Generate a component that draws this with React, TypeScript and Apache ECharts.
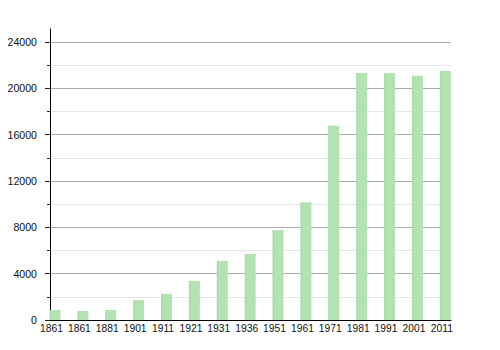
import React, { useEffect, useRef } from "react";
import * as echarts from "echarts";

const years = ["1861", "1861", "1881", "1901", "1911", "1921", "1931", "1936", "1951", "1961", "1971", "1981", "1991", "2001", "2011"];
const population = [865, 780, 865, 1730, 2260, 3370, 5100, 5700, 7780, 10170, 16770, 21330, 21330, 21090, 21520];
const yMin = 0;
const yMax = 24000;
const yStep = 4000;

const FONT = "Liberation Sans, Arial, Helvetica, sans-serif";

export default function App() {
  const ref = useRef<HTMLDivElement>(null);
  useEffect(() => {
    if (!ref.current) return;
    const chart = echarts.init(ref.current, undefined, { renderer: "svg" });
    chart.setOption({
      animation: false,
      backgroundColor: "#ffffff",
      grid: [
        { left: 41.06, width: 418.2, top: 42, height: 278 },
        { left: 50, width: 401, top: 42, height: 278 },
        { left: 50, width: 401, top: 29, height: 291 },
      ],
      xAxis: [
        {
          type: "category",
          gridIndex: 0,
          data: years,
          boundaryGap: true,
          axisLine: { show: false },
          axisTick: { show: false },
          splitLine: { show: false },
          axisLabel: {
            interval: 0,
            margin: 3,
            fontSize: 10.3,
            fontFamily: FONT,
            color: "#111",
            padding: [0, 7, 0, 0],
          },
        },
        { type: "value", gridIndex: 1, show: false, min: 0, max: 1 },
        {
          type: "value",
          gridIndex: 2,
          min: 0,
          max: 1,
          axisLine: { show: true, lineStyle: { color: "#000", width: 1 } },
          axisTick: { show: false },
          axisLabel: { show: false },
          splitLine: { show: false },
        },
      ],
      yAxis: [
        { type: "value", gridIndex: 0, show: false, min: yMin, max: yMax },
        {
          type: "value",
          gridIndex: 1,
          min: yMin,
          max: yMax,
          interval: yStep,
          axisLine: { show: false },
          axisTick: { show: true, length: 5, lineStyle: { color: "#222" } },
          minorTick: { show: true, splitNumber: 2, length: 3, lineStyle: { color: "#222" } },
          splitLine: { show: true, lineStyle: { color: "#a9a9a9", width: 1 } },
          minorSplitLine: { show: true, lineStyle: { color: "#e6e6e6", width: 1 } },
          axisLabel: {
            margin: 13,
            fontSize: 10.6,
            fontFamily: FONT,
            color: "#111",
            formatter: (v: number) => String(v),
          },
        },
        {
          type: "value",
          gridIndex: 2,
          min: 0,
          max: 1,
          axisLine: { show: true, lineStyle: { color: "#000", width: 1 } },
          axisTick: { show: false },
          axisLabel: { show: false },
          splitLine: { show: false },
        },
      ],
      series: [
        {
          type: "bar",
          xAxisIndex: 0,
          yAxisIndex: 0,
          data: population,
          barWidth: 11,
          itemStyle: {
            color: new echarts.graphic.LinearGradient(0, 0, 1, 0, [
              { offset: 0, color: "#a7d8a7" },
              { offset: 0.2, color: "#b3e2b3" },
              { offset: 1, color: "#b3e2b3" },
            ]),
          },
        },
      ],
    });
    return () => chart.dispose();
  }, []);
  return (
    <div
      ref={ref}
      style={{ position: "fixed", left: 0, top: 0, width: 500, height: 350 }}
    />
  );
}
